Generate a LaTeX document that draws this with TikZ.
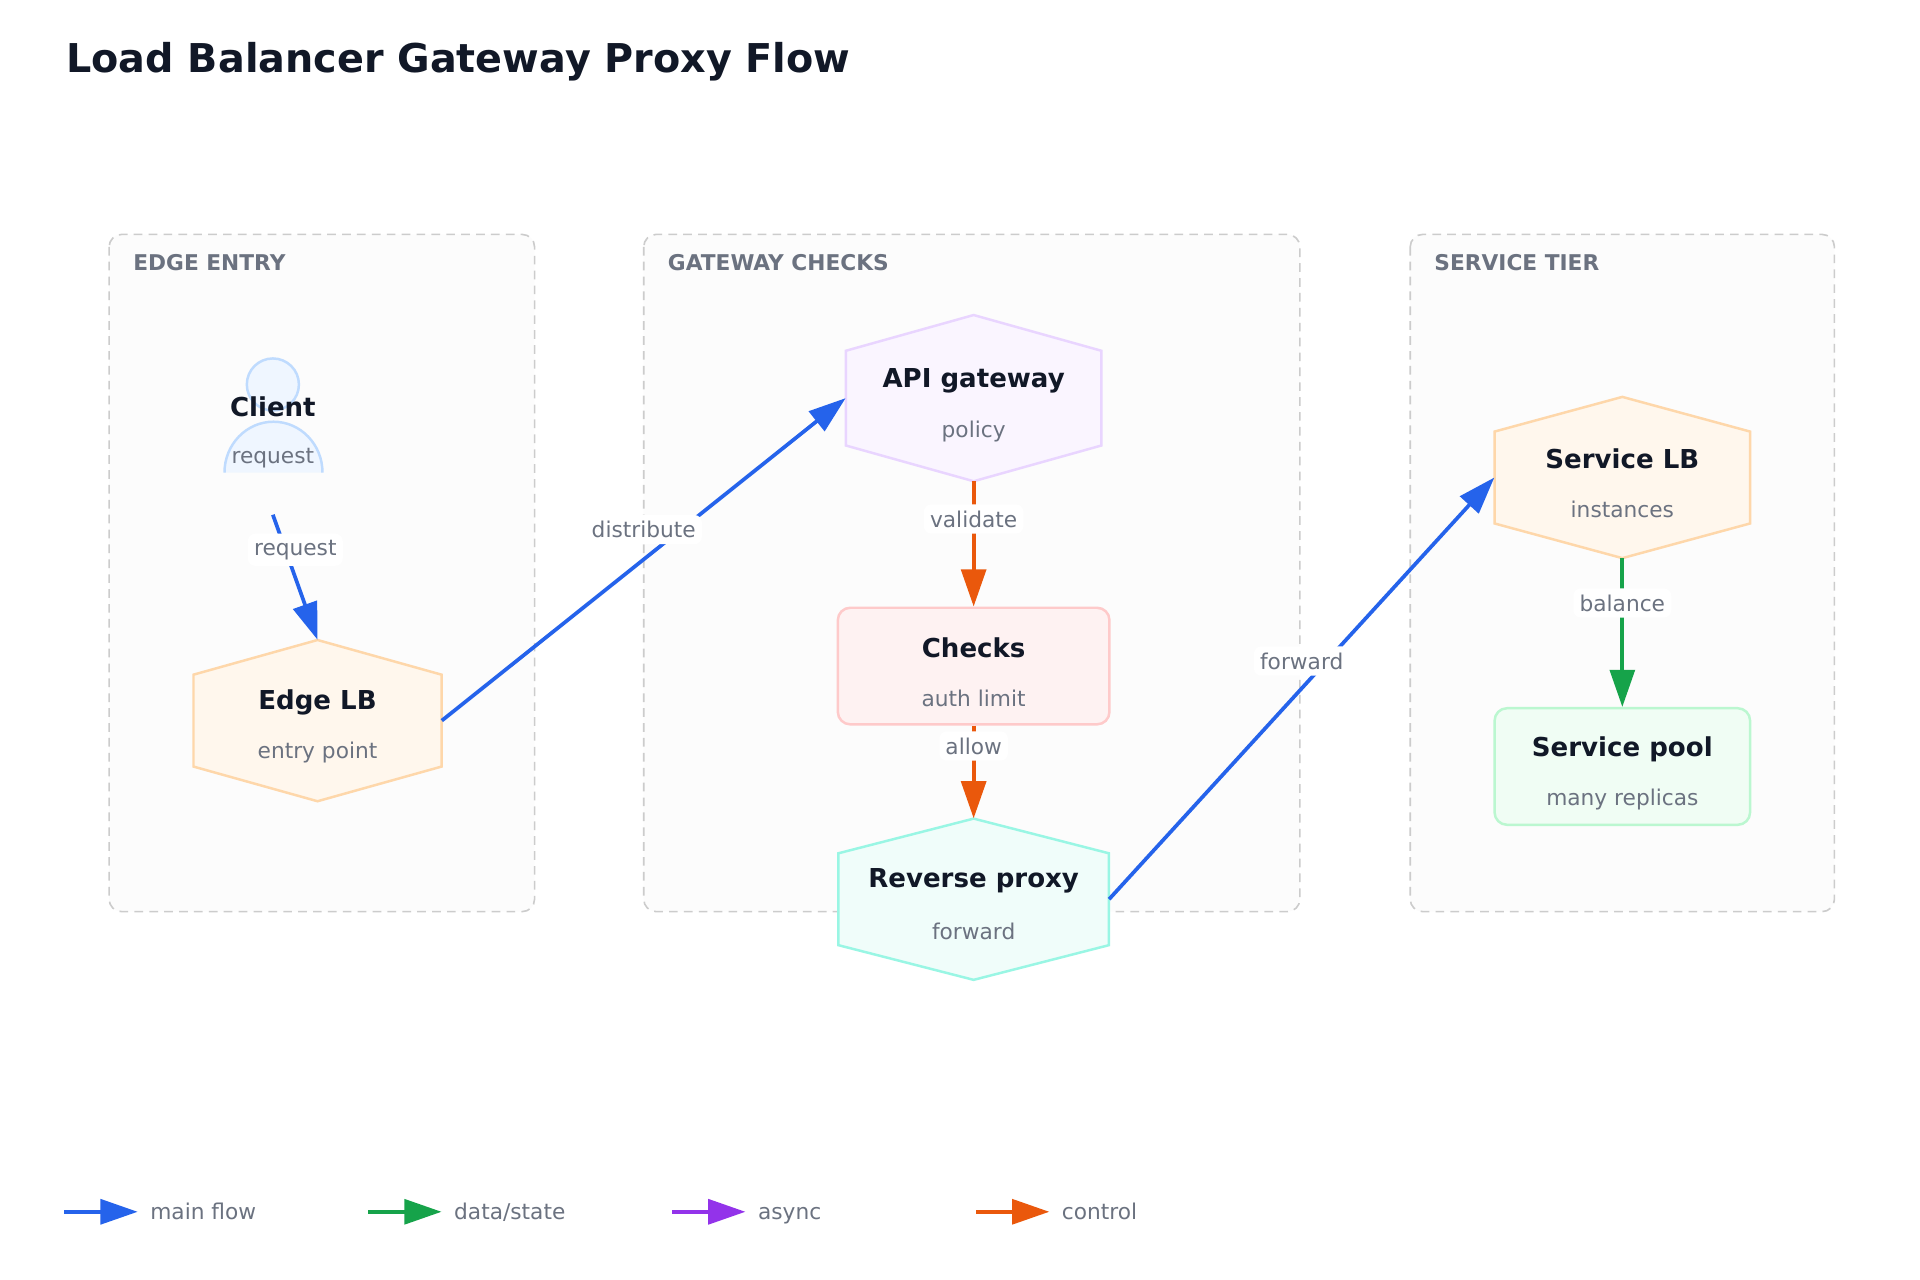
\documentclass[tikz,border=0pt]{standalone}
\usepackage{fontspec}
\setmainfont{DejaVu Sans}
\usetikzlibrary{arrows.meta, positioning}
\definecolor{ink}{HTML}{111827}
\definecolor{muted}{HTML}{6B7280}
\definecolor{mainc}{HTML}{2563EB}
\definecolor{datac}{HTML}{16A34A}
\definecolor{asyncc}{HTML}{9333EA}
\definecolor{ctrlc}{HTML}{EA580C}
\tikzset{
  group/.style={draw=black!20, dash pattern=on 7pt off 5pt, line width=1.3pt, fill=HTML-gf, rounded corners=10pt},
  grouplabel/.style={anchor=west, text=muted, font=\fontsize{17.5}{20}\selectfont\bfseries},
  box/.style={draw=#1, line width=2pt, rounded corners=10pt, minimum width=219pt, minimum height=94pt},
  head/.style={text=ink, font=\fontsize{21}{24}\selectfont\bfseries},
  sub/.style={text=muted, font=\fontsize{17.5}{20}\selectfont},
  tag/.style={fill=white, rounded corners=6pt, text=muted, font=\fontsize{17.5}{20}\selectfont, inner sep=5pt},
  flow/.style={line width=3pt, color=#1, -{Triangle[length=30pt, width=20pt]}},
}
\colorlet{HTML-gf}{black!1.2}
% hexagon around a named invisible box: name, x, y, half width, half height, fill, draw
\newcommand\hexbox[7]{%
  \node[minimum width={2*#4 pt}, minimum height={2*#5 pt}, inner sep=0pt] (#1) at (#2,#3) {};
  \draw[fill=#6, draw=#7, line width=2pt]
    (#2,#3-#5) -- (#2+#4,#3-0.57*#5) -- (#2+#4,#3+0.57*#5) -- (#2,#3+#5)
    -- (#2-#4,#3+0.57*#5) -- (#2-#4,#3-0.57*#5) -- cycle;}
\definecolor{lbfill}{HTML}{FFF7ED}\definecolor{lbdraw}{HTML}{FED7AA}
\definecolor{apifill}{HTML}{FAF5FF}\definecolor{apidraw}{HTML}{E9D5FF}
\definecolor{chkfill}{HTML}{FEF2F2}\definecolor{chkdraw}{HTML}{FECACA}
\definecolor{rpfill}{HTML}{F0FDFA}\definecolor{rpdraw}{HTML}{99F6E4}
\definecolor{poolfill}{HTML}{F0FDF4}\definecolor{pooldraw}{HTML}{BBF7D0}
\definecolor{clfill}{HTML}{EFF6FF}\definecolor{cldraw}{HTML}{BFDBFE}
\begin{document}
\begin{tikzpicture}[x=1pt, y=-1pt]
  \useasboundingbox[fill=white] (0,0) rectangle (1548,1032);
  \node[anchor=west, text=ink, font=\fontsize{32}{36}\selectfont\bfseries] (title) at (50,50) {Load Balancer Gateway Proxy Flow};
  % Groups
  \draw[group] (88,189) rectangle (431,735);
  \draw[group] (519,189) rectangle (1048,735);
  \draw[group] (1137,189) rectangle (1479,735);
  \node[grouplabel] (g1) at (104,212) {EDGE ENTRY};
  \node[grouplabel] (g2) at (535,212) {GATEWAY CHECKS};
  \node[grouplabel] (g3) at (1153,212) {SERVICE TIER};
  % Client
  \draw[fill=clfill, draw=cldraw, line width=2pt] (220,310) circle (21);
  \draw[fill=clfill, draw=cldraw, line width=2pt] (181,381) arc[start angle=180, end angle=0, x radius=39.5, y radius=-41];
  \node[head] (client) at (220,328) {Client};
  \node[sub] (clientsub) at (220,369) {request};
  \coordinate (clientout) at (220,415);
  % Nodes
  \hexbox{edgelb}{256}{581}{100}{65}{lbfill}{lbdraw}
  \node[head] at (256,566) {Edge LB};
  \node[sub] at (256,607) {entry point};
  \hexbox{api}{785}{321}{103}{67}{apifill}{apidraw}
  \node[head] at (785,307) {API gateway};
  \node[sub] at (785,348) {policy};
  \node[box=chkdraw, fill=chkfill] (checks) at (785,537) {};
  \node[head] at (785,522) {Checks};
  \node[sub] at (785,563) {auth limit};
  \hexbox{proxy}{785}{725}{109}{65}{rpfill}{rpdraw}
  \node[head] at (785,710) {Reverse proxy};
  \node[sub] at (785,751) {forward};
  \hexbox{svclb}{1308}{385}{103}{65}{lbfill}{lbdraw}
  \node[head] at (1308,370) {Service LB};
  \node[sub] at (1308,411) {instances};
  \node[box=pooldraw, fill=poolfill, minimum width=206pt] (pool) at (1308,618) {};
  \node[head] at (1308,604) {Service pool};
  \node[sub] at (1308,645) {many replicas};
  % Connectors
  \draw[flow=mainc] (clientout) -- (edgelb.north) node[tag, pos=0.28, xshift=8pt] {request};
  \draw[flow=mainc] (edgelb.east) -- (api.west) node[tag, pos=0.5, yshift=24pt] {distribute};
  \draw[flow=ctrlc] (api.south) -- (checks.north) node[tag, pos=0.3] {validate};
  \draw[flow=ctrlc] (checks.south) -- (proxy.north) node[tag, pos=0.22] {allow};
  \draw[flow=mainc] (proxy.east) -- (svclb.west) node[tag, pos=0.5, yshift=22pt] {forward};
  \draw[flow=datac] (svclb.south) -- (pool.north) node[tag, pos=0.3] {balance};
  % Legend
  \foreach \x/\c/\t in {52/mainc/main flow, 297/datac/data\slash state, 542/asyncc/async, 787/ctrlc/control} {
    \coordinate (a\x) at (\x,977);
    \coordinate (b\x) at (\x+59,977);
    \draw[flow=\c] (a\x) -- (b\x);
    \node[anchor=base west, text=muted, font=\fontsize{17.5}{20}\selectfont, inner sep=0pt] at (\x+69,983) {\t};
  }
\end{tikzpicture}
\end{document}
